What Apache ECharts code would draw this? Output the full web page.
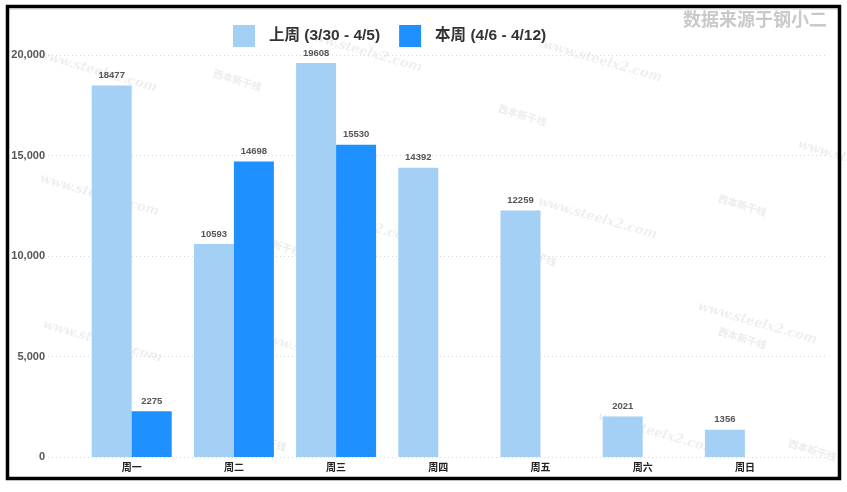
<!DOCTYPE html>
<html>
<head>
<meta charset="utf-8">
<script src="https://cdn.jsdelivr.net/npm/echarts@6/dist/echarts.min.js"></script>
<style>html,body{margin:0;padding:0;background:#fff;}#c{width:847px;height:492px;}</style>
</head>
<body>
<div id="c"></div>
<script>
const categories = ['周一', '周二', '周三', '周四', '周五', '周六', '周日'];
const lastWeek = [18477, 10593, 19608, 14392, 12259, 2021, 1356];
const thisWeek = [2275, 14698, 15530, null, null, null, null];
const seriesNames = ['上周 (3/30 - 4/5)', '本周 (4/6 - 4/12)'];
const yTicks = [0, 5000, 10000, 15000, 20000];

const chart = echarts.init(document.getElementById('c'), null, {renderer: 'canvas'});

const wmText = [
  [40, 48], [305, 28], [545, 38], [42, 172], [540, 195], [800, 138], [45, 318], [260, 330], [600, 410], [700, 300], [300, 200]
];
const wmLogo = [
  [185, 60], [225, 225], [690, 185], [690, 318], [760, 430], [480, 235], [210, 420], [470, 95]
];
const graphics = [];
wmText.forEach(p => graphics.push({
  type: 'text', x: p[0], y: p[1], rotation: -0.28, silent: true, z: -10,
  style: {text: 'www.steelx2.com', fill: '#efefef', font: 'italic bold 13px "DejaVu Serif"'}
}));
wmLogo.forEach(p => graphics.push({
  type: 'text', x: p[0] + 30, y: p[1] + 8, rotation: -0.3, silent: true, z: -10,
  style: {text: '西本新干线', fill: '#ececec', font: 'bold 10px "Noto Sans CJK SC"'}
}));
graphics.push({
  type: 'text', right: 20, top: 10, silent: true,
  style: {text: '数据来源于钢小二', fill: '#c9c9c9', font: 'bold 18px "Noto Sans CJK SC"'}
});
graphics.push({
  type: 'line', silent: true, shape: {x1: 9, y1: 9.5, x2: 838, y2: 9.5},
  style: {stroke: '#e6e6e6', lineWidth: 1}
});
graphics.push({
  type: 'rect', silent: true, z: 100,
  shape: {x: 7.5, y: 6.5, width: 832, height: 472},
  style: {fill: 'none', stroke: '#000', lineWidth: 3.5}
});

const labelFont = '"Liberation Sans", Arial';

const option = {
  backgroundColor: '#fff',
  animation: false,
  textStyle: {fontFamily: '"Liberation Sans", Arial, "Noto Sans CJK SC"'},
  graphic: graphics,
  legend: {
    left: 228, top: 20,
    itemWidth: 22, itemHeight: 22, itemGap: 19,
    icon: 'rect',
    textStyle: {fontSize: 15.5, fontWeight: 'bold', color: '#333', padding: [0, 0, 0, 9], fontFamily: '"Liberation Sans", "Noto Sans CJK SC"'},
    data: seriesNames
  },
  grid: [
    {left: 80.6, right: 51, top: 55, bottom: 35},
    {left: 48, right: 22, top: 55, bottom: 35}
  ],
  xAxis: [
    {
      gridIndex: 0, type: 'category', data: categories,
      axisLine: {show: false}, axisTick: {show: false},
      axisLabel: {margin: 5, fontSize: 10, fontWeight: 'bold', color: '#222', fontFamily: '"Noto Sans CJK SC"'}
    },
    {gridIndex: 1, type: 'value', show: false, min: 0, max: 1}
  ],
  yAxis: [
    {gridIndex: 0, type: 'value', min: 0, max: 20000, interval: 5000, show: false},
    {
      gridIndex: 1, type: 'value', min: yTicks[0], max: yTicks[yTicks.length - 1], interval: 5000,
      axisLine: {show: false}, axisTick: {show: false},
      axisLabel: {margin: 3, fontSize: 11, fontWeight: 'bold', color: '#555',
        formatter: v => v.toLocaleString('en-US')},
      splitLine: {show: true, lineStyle: {color: '#d8d8d8', type: [1, 3], width: 1}}
    }
  ],
  series: [
    {
      name: seriesNames[0], type: 'bar', xAxisIndex: 0, yAxisIndex: 0,
      data: lastWeek, barWidth: 40, barGap: '0%',
      itemStyle: {color: '#A3D0F4'},
      label: {show: true, position: 'top', distance: 5, fontSize: 9.5, fontWeight: 'bold', color: '#555', fontFamily: labelFont}
    },
    {
      name: seriesNames[1], type: 'bar', xAxisIndex: 0, yAxisIndex: 0,
      data: thisWeek, barWidth: 40, barGap: '0%',
      itemStyle: {color: '#1E90FF'},
      label: {show: true, position: 'top', distance: 5, fontSize: 9.5, fontWeight: 'bold', color: '#555', fontFamily: labelFont}
    }
  ]
};
chart.setOption(option);
</script>
</body>
</html>
